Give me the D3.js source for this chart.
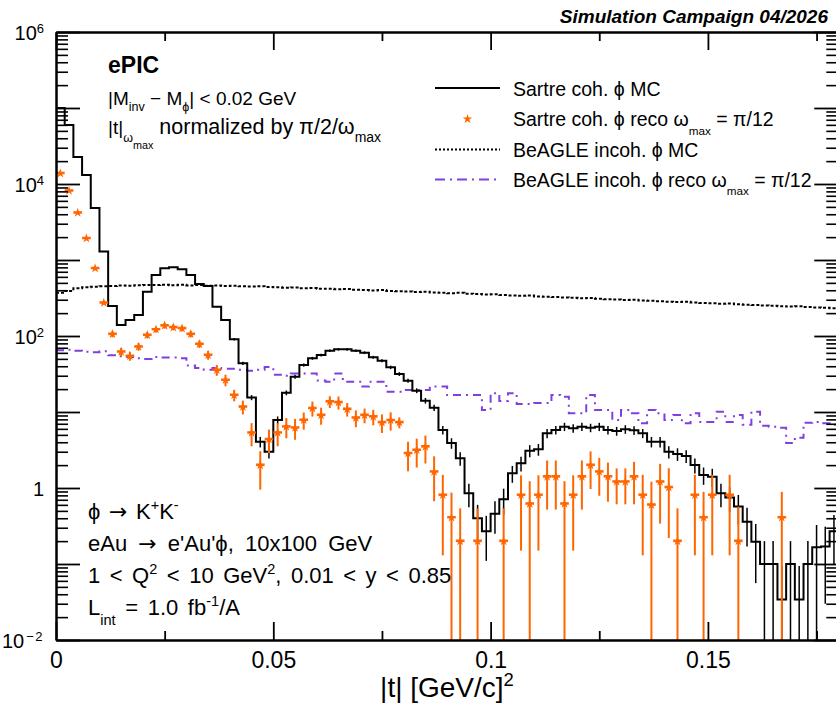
<!DOCTYPE html>
<html>
<head>
<meta charset="utf-8">
<script src="https://cdn.jsdelivr.net/npm/d3@7"></script>
<style>
  body { margin: 0; background: #fff; }
  svg { display: block; font-family: "Liberation Sans", Arial, Helvetica, sans-serif; }
  text { white-space: pre; }
</style>
</head>
<body>
<svg id="chart" width="836" height="708"></svg>
<script>
// |t| binning: 90 bins of 0.002 GeV^2 from 0 to 0.18
const tMin = 0, tMax = 0.18, binWidth = 0.002, nBins = 90;

// Sartre coherent phi, generated (MC truth) |t|
const sartreMC = [
  100000, 59700, 22600, 13100, 4830, 1290, 248, 140, 162, 189,
  383, 635, 778, 802, 755, 635, 483, 455, 243, 162,
  90.5, 43.7, 15.5, 4.06, 3.0, 7.85, 17.9, 29.1, 41.5, 50.9,
  56.2, 64.1, 66.8, 66.8, 64.1, 60.3, 52.5, 47.3, 38.7, 31.6,
  25.8, 19.1, 14.1, 11.4, 5.8, 3.9, 2.46, 0.85, 0.40, 0.27,
  0.46, 0.71, 1.56, 2.11, 3.1, 3.23, 5.25, 5.8, 6.41, 6.1,
  6.41, 6.21, 6.41, 5.8, 5.62, 5.93, 5.75, 5.25, 4.06, 4.06,
  3.0, 2.8, 2.64, 2.0, 1.48, 1.41, 0.85, 0.75, 0.57, 0.36,
  0.196, 0.1, 0.1, 0.034, 0.1, 0.034, 0.1, 0.166, 0.17, 0.27
];
const sartreMCErr = [
  100, 77, 48, 36, 22, 11, 5.0, 3.7, 4.0, 4.3,
  6.2, 8.0, 8.8, 9.0, 8.7, 8.0, 7.0, 6.7, 4.9, 4.0,
  3.0, 2.1, 1.2, 0.64, 0.55, 0.89, 1.3, 1.7, 2.0, 2.3,
  2.4, 2.5, 2.6, 2.6, 2.5, 2.5, 2.3, 2.2, 2.0, 1.8,
  1.6, 1.4, 1.2, 1.07, 0.76, 0.62, 0.5, 0.29, 0.2, 0.16,
  0.21, 0.27, 0.39, 0.46, 0.56, 0.57, 0.72, 0.76, 0.8, 0.78,
  0.8, 0.79, 0.8, 0.76, 0.75, 0.77, 0.76, 0.72, 0.64, 0.64,
  0.55, 0.53, 0.51, 0.45, 0.38, 0.38, 0.29, 0.27, 0.24, 0.19,
  0.14, 0.1, 0.1, 0.06, 0.1, 0.06, 0.1, 0.16, 0.14, 0.17
];

// Sartre coherent phi, reconstructed |t| with omega_max = pi/12 (0 = empty bin)
const sartreReco = [
  13800, 8170, 4190, 1930, 778, 274, 106, 62, 54.6, 72.3,
  103, 122, 137, 130, 126, 106, 78.5, 56.2, 35.7, 26.4,
  16.7, 11.7, 5.34, 2.0, 4.37, 5.34, 6.41, 6.21, 7.85, 11.2,
  9.1, 13.7, 13.4, 10.9, 8.4, 9.1, 8.7, 7.3, 7.8, 7.3,
  2.86, 3.16, 3.5, 1.64, 0.81, 0.41, 0.20, 0, 0.20, 0,
  0, 0.20, 0, 0.81, 0.62, 0.81, 1.41, 1.41, 0.62, 0.81,
  1.41, 2.0, 1.64, 1.41, 1.21, 1.21, 1.41, 0.81, 0.6, 1.21,
  1.02, 0.2, 0, 0.81, 0.41, 0.81, 0, 0.81, 0.2, 0,
  0, 0, 0, 0.41, 0, 0, 0, 0, 0, 0
];
const sartreRecoErr = [
  120, 90, 65, 44, 28, 16, 10, 7.8, 7.4, 8.5,
  10, 11, 12, 11.4, 11.2, 10.3, 8.9, 7.5, 5.8, 4.6,
  2.9, 2.4, 1.8, 1.05, 1.5, 1.8, 1.9, 1.9, 2.0, 2.5,
  2.3, 2.4, 2.6, 2.2, 2.1, 2.0, 2.0, 2.0, 2.1, 1.2,
  1.2, 1.3, 1.4, 0.97, 0.68, 0.46, 0.34, 0, 0.34, 0,
  0, 0.34, 0, 0.66, 0.61, 0.66, 0.89, 0.89, 0.61, 0.66,
  0.89, 1.03, 0.85, 0.75, 0.6, 0.6, 0.8, 0.68, 0.61, 0.87,
  0.8, 0.34, 0, 0.68, 0.48, 0.68, 0, 0.68, 0.37, 0,
  0, 0, 0, 0.48, 0, 0, 0, 0, 0, 0
];

// BeAGLE incoherent phi, generated |t|
const beagleMC = [
  370, 392, 425, 438, 446, 452, 455, 462, 458, 466,
  470, 468, 474, 466, 471, 463, 468, 459, 462, 455,
  458, 450, 447, 452, 441, 437, 432, 436, 425, 428,
  420, 418, 412, 416, 405, 402, 398, 404, 392, 389,
  385, 379, 383, 374, 370, 366, 371, 360, 356, 352,
  354, 346, 342, 338, 341, 332, 329, 325, 322, 318,
  314, 317, 309, 305, 302, 298, 300, 293, 290, 286,
  283, 280, 282, 276, 271, 269, 266, 268, 261, 258,
  256, 252, 250, 247, 244, 246, 240, 237, 235, 232
];

// BeAGLE incoherent phi, reconstructed |t| with omega_max = pi/12
const beagleReco = [
  65, 66, 64, 62, 61, 63, 56, 54, 53, 51,
  50, 53, 52, 52, 51, 41, 38, 36, 38, 37,
  37, 36, 35, 36, 39, 31, 30, 32, 32, 32,
  26, 25, 32, 25, 25, 21.6, 25, 25, 18.5, 18.5,
  19.5, 19.5, 19.5, 21.6, 21.6, 16.7, 16.7, 16.7, 16.7, 10.6,
  17.7, 14, 17.7, 12.7, 12.7, 13.1, 13.1, 16.7, 15.9, 9.6,
  9.6, 16.7, 10.6, 10.6, 7.85, 10.6, 9.6, 7.1, 10.6, 9.6,
  7.85, 9.1, 7.1, 9.6, 7.4, 7.4, 10.1, 7.4, 9.1, 6.8,
  10.1, 6.6, 6.4, 6.2, 3.9, 4.6, 7.2, 7.4, 7.1, 6.8
];

// Axis ticks and labels
const xMajorTicks = [0, 0.05, 0.1, 0.15];
const xMajorLabels = ["0", "0.05", "0.1", "0.15"];
const xMinorTicks = [0.025, 0.075, 0.125, 0.175];
const yDecadeExps = [-2, -1, 0, 1, 2, 3, 4, 5, 6];
const yLabelledExps = [-2, 0, 2, 4, 6];

const colReco = "#ff6600";
const colBeagleReco = "#8040e0";
const dashDot = "8,5,2,5";
const dotted = "3,2";

const svg = d3.select("#chart");
const x = d3.scaleLinear().domain([tMin, tMax]).range([56, 838.3]);
const y = d3.scaleLog().domain([1e-2, 1e6]).range([640, 32]);
const yBottom = y.range()[0], yTop = y.range()[1];

svg.append("rect").attr("width", 836).attr("height", 708).attr("fill", "#fff");

svg.append("defs").append("clipPath").attr("id", "plotArea")
  .append("rect").attr("x", x.range()[0]).attr("y", yTop)
  .attr("width", x.range()[1] - x.range()[0]).attr("height", yBottom - yTop);

const plot = svg.append("g").attr("clip-path", "url(#plotArea)");

const edges = d3.range(nBins + 1).map(i => tMin + i * binWidth);
const centers = d3.range(nBins).map(i => tMin + (i + 0.5) * binWidth);
const stepPts = vals => vals.map((v, i) => [edges[i], v]).concat([[edges[nBins], vals[nBins - 1]]]);
const stepLine = d3.line().x(d => x(d[0])).y(d => y(d[1])).curve(d3.curveStepAfter);
const yClamp = v => (v > y.domain()[0] ? y(v) : yBottom);

// BeAGLE reco: dash-dot step histogram
plot.append("path").attr("d", stepLine(stepPts(beagleReco)))
  .attr("fill", "none").attr("stroke", colBeagleReco).attr("stroke-width", 2)
  .attr("stroke-dasharray", dashDot);

// BeAGLE MC: dotted step histogram
plot.append("path").attr("d", stepLine(stepPts(beagleMC)))
  .attr("fill", "none").attr("stroke", "#000").attr("stroke-width", 2)
  .attr("stroke-dasharray", dotted);

// Sartre MC: solid histogram with statistical error bars
plot.append("path").attr("d", stepLine(stepPts(sartreMC)))
  .attr("fill", "none").attr("stroke", "#000").attr("stroke-width", 2);
plot.append("g").selectAll("line").data(sartreMC).join("line")
  .attr("x1", (d, i) => x(centers[i])).attr("x2", (d, i) => x(centers[i]))
  .attr("y1", (d, i) => y(d + sartreMCErr[i]))
  .attr("y2", (d, i) => yClamp(d - sartreMCErr[i]))
  .attr("stroke", "#000").attr("stroke-width", 1.5);

// Sartre reco: star markers with x and y error bars
const recoPts = sartreReco.map((v, i) => ({ v, e: sartreRecoErr[i], i })).filter(d => d.v > 0);
const recoG = plot.append("g");
recoG.selectAll("line.ey").data(recoPts).join("line").attr("class", "ey")
  .attr("x1", d => x(centers[d.i])).attr("x2", d => x(centers[d.i]))
  .attr("y1", d => y(d.v + d.e)).attr("y2", d => yClamp(d.v - d.e))
  .attr("stroke", colReco).attr("stroke-width", 2);
recoG.selectAll("line.ex").data(recoPts).join("line").attr("class", "ex")
  .attr("x1", d => x(edges[d.i])).attr("x2", d => x(edges[d.i + 1]))
  .attr("y1", d => y(d.v)).attr("y2", d => y(d.v))
  .attr("stroke", colReco).attr("stroke-width", 2);
const star = d3.symbol().type(d3.symbolStar).size(28);
recoG.selectAll("path").data(recoPts).join("path")
  .attr("d", star).attr("transform", d => `translate(${x(centers[d.i])},${y(d.v)})`)
  .attr("fill", colReco);

// ---- Axes ----
const yMinorTicks = [];
for (let e = -2; e < 6; e++) for (let m = 2; m <= 9; m++) yMinorTicks.push(m * Math.pow(10, e));
const yMajorTicks = yDecadeExps.map(e => Math.pow(10, e));

function styleAxis(g, w) {
  g.attr("font-family", null);
  g.selectAll(".domain").attr("stroke", "#000").attr("stroke-width", 2);
  g.selectAll(".tick line").attr("stroke", "#000").attr("stroke-width", w);
}

// bottom
const gxB = svg.append("g").attr("transform", `translate(0,${yBottom})`)
  .call(d3.axisBottom(x).tickValues(xMajorTicks).tickSize(-18).tickSizeOuter(0).tickPadding(12)
    .tickFormat((d, i) => xMajorLabels[i]));
styleAxis(gxB, 1.8);
gxB.selectAll("text").attr("font-size", 23).attr("fill", "#000");
const gxBm = svg.append("g").attr("transform", `translate(0,${yBottom})`)
  .call(d3.axisBottom(x).tickValues(xMinorTicks).tickSize(-9).tickSizeOuter(0).tickFormat(""));
styleAxis(gxBm, 1.8);

// top
const gxT = svg.append("g").attr("transform", `translate(0,${yTop})`)
  .call(d3.axisTop(x).tickValues(xMajorTicks).tickSize(-18).tickSizeOuter(0).tickFormat(""));
styleAxis(gxT, 1.8);
const gxTm = svg.append("g").attr("transform", `translate(0,${yTop})`)
  .call(d3.axisTop(x).tickValues(xMinorTicks).tickSize(-9).tickSizeOuter(0).tickFormat(""));
styleAxis(gxTm, 1.8);

// left
const gyL = svg.append("g").attr("transform", `translate(${x.range()[0]},0)`)
  .call(d3.axisLeft(y).tickValues(yMajorTicks).tickSize(-24).tickSizeOuter(0).tickPadding(12)
    .tickFormat(() => ""));
styleAxis(gyL, 1.8);
const gyLm = svg.append("g").attr("transform", `translate(${x.range()[0]},0)`)
  .call(d3.axisLeft(y).tickValues(yMinorTicks).tickSize(-12).tickSizeOuter(0).tickFormat(""));
styleAxis(gyLm, 1.6);

// decade labels as 10^n
gyL.selectAll(".tick").each(function (d) {
  const e = Math.round(Math.log10(d));
  if (!yLabelledExps.includes(e)) return;
  const t = d3.select(this).select("text").text("").attr("font-size", 20).attr("fill", "#000").attr("dy", "0.36em");
  if (e === 0) { t.text("1"); return; }
  t.append("tspan").text("10");
  const sup = t.append("tspan").attr("dy", "-0.55em").attr("font-size", 13);
  if (e < 0) sup.attr("dx", 2).attr("letter-spacing", 1.5).text("\u2212" + (-e));
  else sup.text(String(e));
});

// right
const gyR = svg.append("g").attr("transform", `translate(${x.range()[1]},0)`)
  .call(d3.axisRight(y).tickValues(yMajorTicks).tickSize(-24).tickSizeOuter(0).tickFormat(""));
styleAxis(gyR, 1.8);
const gyRm = svg.append("g").attr("transform", `translate(${x.range()[1]},0)`)
  .call(d3.axisRight(y).tickValues(yMinorTicks).tickSize(-12).tickSizeOuter(0).tickFormat(""));
styleAxis(gyRm, 1.6);

// ---- Text with sub/superscripts ----
// parts: "plain" or [text, kind, fontSize?, fontFamily?]
function rich(x0, y0, parts, size, opts = {}) {
  const t = svg.append("text").attr("x", x0).attr("y", y0).attr("font-size", size).attr("fill", "#000");
  if (opts.anchor) t.attr("text-anchor", opts.anchor);
  if (opts.weight) t.attr("font-weight", opts.weight);
  if (opts.style) t.attr("font-style", opts.style);
  if (opts.wordSpacing) t.attr("word-spacing", opts.wordSpacing);
  const subScale = opts.subScale || 0.66;
  const subOff = opts.subOff || 0.44;
  let cur = 0;
  parts.forEach(p => {
    const [str, kind, fsz, fam] = typeof p === "string" ? [p, "n"] : p;
    let off = 0, fs = size;
    if (kind === "sub") { off = subOff * size; fs = subScale * size; }
    if (kind === "sup") { off = -0.4 * size; fs = subScale * size; }
    if (kind === "subsub") { off = 0.8 * size; fs = 0.56 * size; }
    const ts = t.append("tspan").attr("dy", off - cur).attr("font-size", fsz || fs).text(str);
    if (fam) ts.attr("font-family", fam);
    cur = off;
  });
  return t;
}

const arrow = ["\u2192", "n", null, "DejaVu Sans"];

// header
rich(828, 23, ["Simulation Campaign 04/2026"], 19, { anchor: "end", weight: "bold", style: "italic" });

// upper-left block
rich(108, 73, ["ePIC"], 23, { weight: "bold" });
rich(108, 105, ["|M", ["inv", "sub"], " \u2212 M", ["\u03d5", "sub"], "| < 0.02 GeV"], 19, { subOff: 0.3 });
rich(108, 134, ["|t|", ["\u03c9", "sub", 12.5], ["max", "subsub", 10.8],
  [" normalized by \u03c0/2/\u03c9", "n", 21.5], ["max", "sub", 14]], 19);

// lower-left block
const lowSize = 22;
rich(88, 519, ["\u03d5 ", arrow, " K", ["+", "sup"], "K", ["-", "sup"]], lowSize, { wordSpacing: 2.5 });
rich(88, 551, ["eAu ", arrow, " e'Au'\u03d5, 10x100 GeV"], lowSize, { wordSpacing: 5 });
rich(88, 583, ["1 < Q", ["2", "sup"], " < 10 GeV", ["2", "sup"], ", 0.01 < y < 0.85"], lowSize, { wordSpacing: 3.4 });
rich(88, 615, ["L", ["int", "sub"], " = 1.0 fb", ["-1", "sup"], "/A"], lowSize, { wordSpacing: 3.5 });

// axis title
rich(447, 697, ["|t| [GeV/c]", ["2", "sup"]], 28, { anchor: "middle" });

// ---- Legend ----
const legRows = [88, 119, 149.5, 179.5];
const legX0 = 435, legX1 = 500, legTextX = 513, legSize = 19.5;
svg.append("line").attr("x1", legX0).attr("x2", legX1).attr("y1", legRows[0]).attr("y2", legRows[0])
  .attr("stroke", "#000").attr("stroke-width", 2);
svg.append("path").attr("d", star).attr("transform", `translate(467.5,${legRows[1]})`).attr("fill", colReco);
svg.append("line").attr("x1", legX0).attr("x2", legX1).attr("y1", legRows[2]).attr("y2", legRows[2])
  .attr("stroke", "#000").attr("stroke-width", 2).attr("stroke-dasharray", "2,2");
svg.append("line").attr("x1", legX0).attr("x2", legX1).attr("y1", legRows[3]).attr("y2", legRows[3])
  .attr("stroke", colBeagleReco).attr("stroke-width", 2).attr("stroke-dasharray", "10,5,2,5");

rich(legTextX, legRows[0] + 8, ["Sartre coh. \u03d5 MC"], legSize);
rich(legTextX, legRows[1] + 7, ["Sartre coh. \u03d5 reco \u03c9", ["max", "sub"], " = \u03c0/12"], legSize, { subScale: 0.6 });
rich(legTextX, legRows[2] + 7, ["BeAGLE incoh. \u03d5 MC"], legSize);
rich(legTextX, legRows[3] + 7, ["BeAGLE incoh. \u03d5 reco \u03c9", ["max", "sub"], " = \u03c0/12"], legSize, { subScale: 0.6 });
</script>
</body>
</html>
